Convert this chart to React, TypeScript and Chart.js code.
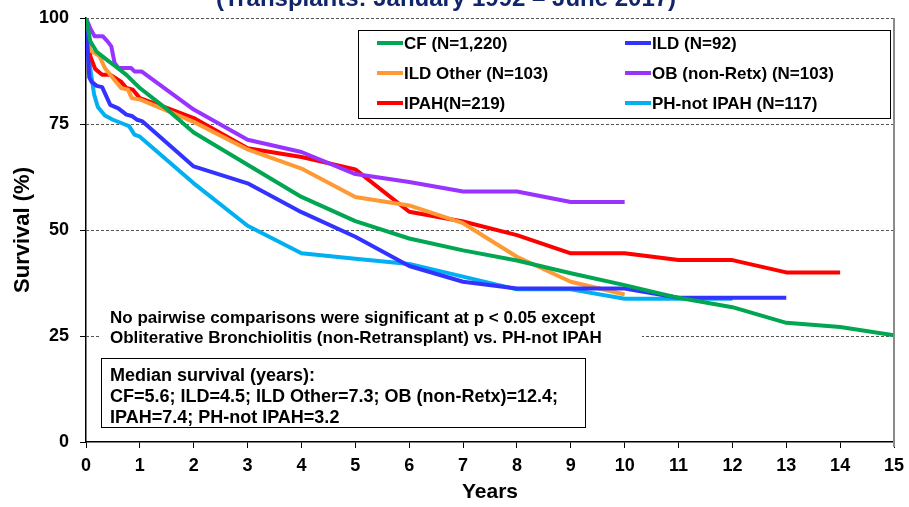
import { useEffect, useRef } from 'react';
import { Chart, registerables } from 'chart.js';

Chart.register(...registerables);

const FONT = '"Liberation Sans", Arial, Helvetica, sans-serif';

// ---- data ----
const cfYears = [0, 0.08, 0.2, 0.4, 0.55, 0.75, 0.9, 1, 1.5, 2, 3, 4, 5, 6, 7, 8, 9, 10, 11, 12, 13, 14, 15];
const cfSurvival = [100, 94.5, 92, 90, 88.6, 86.6, 84.7, 83.5, 78.5, 73, 65.4, 57.8, 52.1, 48, 45.2, 42.8, 39.8, 37, 34, 31.8, 28.1, 27.1, 25.2];

const ildYears = [0, 0.06, 0.1, 0.2, 0.3, 0.45, 0.6, 0.75, 0.85, 0.95, 1.05, 2, 3, 4, 5, 6, 7, 8, 9, 10, 11, 12, 13];
const ildSurvival = [100, 86, 85, 84, 83.7, 79.5, 78.7, 77.2, 76.9, 76, 75.6, 65, 61, 54.2, 48.4, 41.5, 37.8, 36.2, 36.2, 36.2, 34, 34, 34];

const ildOtherYears = [0, 0.06, 0.25, 0.35, 0.45, 0.65, 0.78, 0.85, 1, 2, 3, 4, 5, 6, 7, 8, 9, 10];
const ildOtherSurvival = [100, 92.5, 91, 88.2, 86.6, 83.5, 83.1, 81.1, 80.8, 75.5, 69, 64.5, 57.8, 55.8, 51.6, 43.7, 37.8, 34.8];

const obYears = [0, 0.08, 0.16, 0.31, 0.4, 0.47, 0.53, 0.6, 0.84, 0.9, 1.03, 2, 3, 4, 5, 6, 7, 8, 9, 10];
const obSurvival = [100, 97.5, 95.7, 95.7, 94.5, 93.3, 89.4, 88.2, 88.2, 87.4, 87.4, 78.4, 71.3, 68.4, 63.2, 61.3, 59.1, 59.1, 56.6, 56.6];

const ipahYears = [0, 0.08, 0.17, 0.3, 0.45, 0.55, 0.65, 0.75, 0.87, 1, 1.5, 2, 3, 4, 5, 6, 7, 8, 9, 10, 11, 12, 13, 14];
const ipahSurvival = [100, 91, 88, 86.6, 86.6, 85.8, 85, 83.5, 83.1, 81.1, 78.8, 76.4, 69.3, 67.2, 64.3, 54.3, 52, 48.8, 44.5, 44.5, 42.9, 42.9, 40, 40];

const phYears = [0, 0.08, 0.15, 0.22, 0.35, 0.5, 0.7, 0.8, 0.9, 1, 2, 3, 4, 5, 6, 7, 8, 9, 10, 11, 12];
const phSurvival = [100, 88, 82, 79, 77, 76, 75, 74.5, 72.5, 72, 61, 51, 44.5, 43.2, 42, 39, 36, 36, 33.8, 33.8, 33.8];

const seriesLabels = ['CF (N=1,220)', 'ILD (N=92)', 'ILD Other (N=103)', 'OB (non-Retx) (N=103)', 'IPAH(N=219)', 'PH-not IPAH (N=117)'];
const seriesYears = [cfYears, ildYears, ildOtherYears, obYears, ipahYears, phYears];
const seriesSurvival = [cfSurvival, ildSurvival, ildOtherSurvival, obSurvival, ipahSurvival, phSurvival];

const yTicks = [0, 25, 50, 75, 100];
const gridValues = [25, 50, 75, 100];

const titleText = '(Transplants: January 1992 \u2013 June 2017)';
const xTitle = 'Years';
const yTitle = 'Survival (%)';
const noteLines = [
  'No pairwise comparisons were significant at p < 0.05 except',
  'Obliterative Bronchiolitis (non-Retransplant) vs. PH-not IPAH',
];
const medianLines = [
  'Median survival (years):',
  'CF=5.6; ILD=4.5; ILD Other=7.3; OB (non-Retx)=12.4;',
  'IPAH=7.4; PH-not IPAH=3.2',
];

// ---- styles ----
const seriesColors = ['#00A651', '#3333FF', '#FF9933', '#9933FF', '#FF0000', '#00B0F0'];

const decorPlugin = {
  id: 'decor',
  beforeDatasetsDraw(chart: any) {
    const { ctx, chartArea, scales } = chart;
    const y = scales.y;
    ctx.save();
    ctx.strokeStyle = '#555';
    ctx.lineWidth = 1;
    ctx.setLineDash([3, 2]);
    gridValues.forEach((v) => {
      const py = Math.round(y.getPixelForValue(v)) + 0.5;
      ctx.beginPath();
      ctx.moveTo(chartArea.left, py);
      ctx.lineTo(chartArea.right, py);
      ctx.stroke();
    });
    ctx.restore();
  },
  afterDatasetsDraw(chart: any) {
    const { ctx, chartArea, scales } = chart;
    const x = scales.x;
    ctx.save();
    // right frame
    const rx = x.getPixelForValue(15);
    ctx.strokeStyle = '#8a8a8a';
    ctx.lineWidth = 2;
    ctx.beginPath();
    ctx.moveTo(rx, chartArea.top);
    ctx.lineTo(rx, chartArea.bottom + 5);
    ctx.stroke();

    // note (white background hides gridline)
    ctx.fillStyle = '#fff';
    ctx.fillRect(100, 306, 542, 44);
    ctx.fillStyle = '#000';
    ctx.font = `bold 17px ${FONT}`;
    ctx.textBaseline = 'middle';
    ctx.textAlign = 'left';
    noteLines.forEach((t, i) => ctx.fillText(t, 110, 318 + i * 20));

    // median box
    ctx.fillStyle = '#fff';
    ctx.fillRect(101, 358, 484, 69);
    ctx.strokeStyle = '#000';
    ctx.lineWidth = 1;
    ctx.strokeRect(101.5, 358.5, 484, 69);
    ctx.fillStyle = '#000';
    ctx.font = `bold 18px ${FONT}`;
    medianLines.forEach((t, i) => ctx.fillText(t, 110, 376 + i * 21));

    // legend
    ctx.fillStyle = '#fff';
    ctx.fillRect(358, 30, 532, 88);
    ctx.strokeStyle = '#000';
    ctx.lineWidth = 1;
    ctx.strokeRect(358.5, 30.5, 532, 88);
    ctx.font = `bold 17px ${FONT}`;
    const colX = [377, 625];
    const rowY = [44, 74, 104];
    chart.data.datasets.forEach((ds: any, i: number) => {
      const cx = colX[i % 2];
      const cy = rowY[Math.floor(i / 2)];
      ctx.strokeStyle = ds.borderColor;
      ctx.lineWidth = 4;
      ctx.beginPath();
      ctx.moveTo(cx, cy - 1);
      ctx.lineTo(cx + 26, cy - 1);
      ctx.stroke();
      ctx.fillStyle = '#000';
      ctx.fillText(ds.label, cx + 27, cy);
    });
    ctx.restore();
  },
  afterDraw(chart: any) {
    const { ctx, chartArea } = chart;
    ctx.save();
    ctx.fillStyle = '#10266B';
    ctx.font = `bold 24px ${FONT}`;
    ctx.textAlign = 'center';
    ctx.textBaseline = 'alphabetic';
    ctx.fillText(titleText, 446, 6);

    ctx.fillStyle = '#000';
    ctx.font = `bold 21px ${FONT}`;
    ctx.textBaseline = 'middle';
    ctx.fillText(xTitle, (chartArea.left + chartArea.right) / 2, 492);

    ctx.translate(23, (chartArea.top + chartArea.bottom) / 2);
    ctx.rotate(-Math.PI / 2);
    ctx.font = `bold 22px ${FONT}`;
    ctx.fillText(yTitle, 0, 0);
    ctx.restore();
  },
};

export default function App() {
  const ref = useRef<HTMLCanvasElement | null>(null);
  useEffect(() => {
    if (!ref.current) return;
    Chart.defaults.font.family = FONT;
    const chart = new Chart(ref.current, {
      type: 'line',
      data: {
        datasets: seriesLabels.map((label, i) => ({
          label,
          data: seriesYears[i].map((x, j) => ({ x, y: seriesSurvival[i][j] })),
          borderColor: seriesColors[i],
          backgroundColor: seriesColors[i],
          borderWidth: 4,
          pointRadius: 0,
          pointHoverRadius: 0,
          tension: 0,
          fill: false,
          borderJoinStyle: 'round' as const,
        })),
      },
      options: {
        animation: false,
        responsive: false,
        devicePixelRatio: 1,
        layout: { padding: { top: 18, right: 15, left: 0, bottom: 0 } },
        plugins: { legend: { display: false }, title: { display: false }, tooltip: { enabled: false } },
        scales: {
          x: {
            type: 'linear',
            min: 0,
            max: 15,
            afterFit: (s: any) => { s.height = 65; s.paddingRight = 0; s.paddingLeft = 0; },
            ticks: { stepSize: 1, color: '#000', font: { size: 18, weight: 'bold' }, padding: 7, maxRotation: 0, autoSkip: false },
            grid: { drawOnChartArea: false, drawTicks: true, tickLength: 6, color: '#000' },
            border: { display: true, color: '#000', width: 1.5 },
          },
          y: {
            min: 0,
            max: 100,
            afterFit: (s: any) => { s.width = 86; s.paddingTop = 0; s.paddingBottom = 0; },
            afterBuildTicks: (s: any) => { s.ticks = yTicks.map((v) => ({ value: v })); },
            ticks: { color: '#000', font: { size: 18, weight: 'bold' }, padding: 11 },
            grid: { drawOnChartArea: false, drawTicks: true, tickLength: 6, color: '#000' },
            border: { display: true, color: '#000', width: 1.5 },
          },
        },
      },
      plugins: [decorPlugin],
    });
    return () => chart.destroy();
  }, []);
  return (
    <div style={{ position: 'fixed', left: 0, top: 0, width: 909, height: 507, background: '#fff' }}>
      <canvas ref={ref} width={909} height={507} />
    </div>
  );
}
